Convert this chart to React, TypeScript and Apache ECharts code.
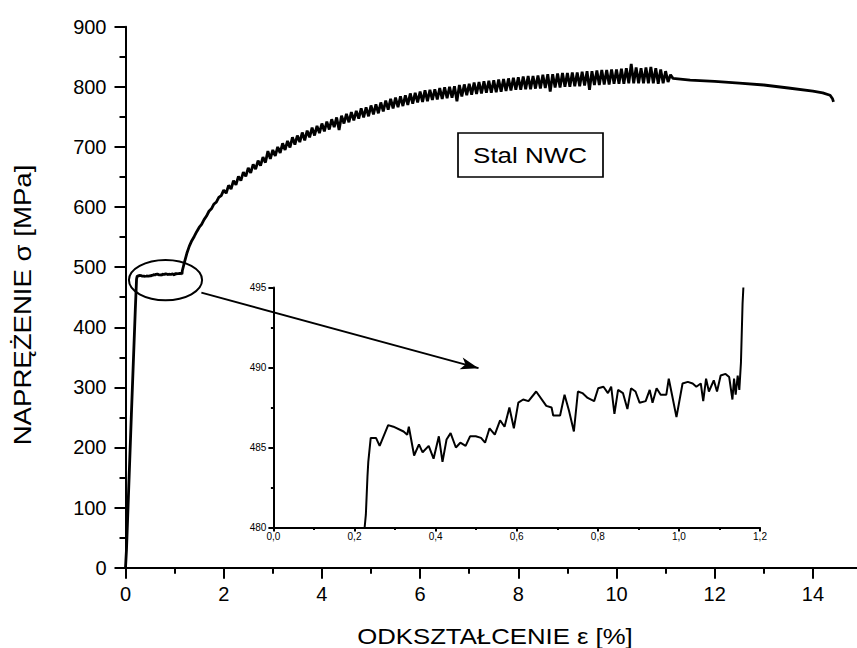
import React, { useEffect, useRef } from "react";
import * as echarts from "echarts";

// strain [%], stress [MPa]
const elastic: [number, number][] = [[0, 0], [0.02, 30], [0.12, 255], [0.2, 430]];

// yield plateau (also drawn magnified in the inset)
const plateau: [number, number][] = [
  [0.225, 480], [0.228, 480.8], [0.232, 483.2], [0.234, 484.1], [0.24, 485.6], [0.253, 485.6],
  [0.262, 485.1], [0.283, 486.4], [0.296, 486.3], [0.321, 486.0], [0.33, 485.8], [0.334, 486.3],
  [0.347, 484.5], [0.359, 485.2], [0.368, 484.7], [0.383, 485.1], [0.395, 484.3], [0.408, 485.7],
  [0.417, 484.1], [0.427, 485.5], [0.437, 485.9], [0.45, 485.0], [0.461, 485.3], [0.474, 485.1],
  [0.485, 485.7], [0.499, 485.7], [0.512, 485.6], [0.522, 485.3], [0.533, 486.2], [0.546, 485.8],
  [0.559, 486.7], [0.57, 486.3], [0.582, 487.5], [0.593, 486.2], [0.604, 487.8], [0.616, 488.0],
  [0.629, 487.9], [0.648, 488.5], [0.673, 487.6], [0.686, 487.5], [0.69, 487.0], [0.707, 487.0],
  [0.718, 488.3], [0.729, 487.3], [0.741, 486.0], [0.751, 488.5], [0.762, 488.4], [0.775, 488.1],
  [0.791, 487.9], [0.801, 488.7], [0.814, 488.8], [0.825, 488.4], [0.833, 488.8], [0.841, 487.1],
  [0.85, 488.6], [0.862, 488.4], [0.873, 487.4], [0.882, 488.7], [0.893, 488.5], [0.903, 487.8],
  [0.918, 487.9], [0.928, 488.6], [0.935, 487.8], [0.945, 488.7], [0.955, 488.3], [0.969, 488.3],
  [0.975, 489.3], [0.983, 488.3], [0.994, 486.9], [1.009, 489.0], [1.022, 489.1], [1.034, 489.0],
  [1.043, 488.8], [1.054, 489.0], [1.06, 487.9], [1.067, 489.3], [1.074, 488.5], [1.086, 489.2],
  [1.094, 488.5], [1.103, 489.5], [1.115, 489.6], [1.124, 489.4], [1.132, 488.0], [1.136, 489.3],
  [1.14, 488.3], [1.145, 489.5], [1.149, 488.6], [1.153, 490.3], [1.157, 494.0], [1.159, 495],
];

// strain hardening (noisy record)
const hardening: [number, number][] = [
  [1.2, 508], [1.25, 523], [1.3, 535], [1.35, 544], [1.4, 551], [1.45, 559], [1.5, 566], [1.55, 571],
  [1.6, 579], [1.65, 585], [1.7, 593], [1.75, 597], [1.8, 605], [1.85, 608], [1.9, 616], [1.95, 619],
  [2.0, 628], [2.05, 623], [2.1, 636], [2.15, 630], [2.2, 644], [2.25, 637], [2.3, 651], [2.35, 644],
  [2.4, 658], [2.45, 651], [2.5, 665], [2.55, 657], [2.6, 671], [2.65, 663], [2.7, 677], [2.75, 669],
  [2.8, 683], [2.85, 674], [2.9, 693], [2.95, 680], [3.0, 695], [3.05, 685], [3.1, 700], [3.15, 690],
  [3.2, 706], [3.25, 695], [3.3, 710], [3.35, 699], [3.4, 716], [3.45, 704], [3.5, 719], [3.55, 708],
  [3.6, 724], [3.65, 711], [3.7, 727], [3.75, 716], [3.8, 732], [3.85, 719], [3.9, 735], [3.95, 723],
  [4.0, 739], [4.05, 726], [4.1, 742], [4.15, 729], [4.2, 746], [4.25, 733], [4.3, 749], [4.35, 728],
  [4.4, 752], [4.45, 739], [4.5, 755], [4.55, 741], [4.6, 758], [4.65, 744], [4.7, 760], [4.75, 747],
  [4.8, 764], [4.85, 749], [4.9, 766], [4.95, 751], [5.0, 769], [5.05, 754], [5.1, 771], [5.15, 756],
  [5.2, 774], [5.25, 759], [5.3, 777], [5.35, 762], [5.4, 780], [5.45, 764], [5.5, 782], [5.55, 766],
  [5.6, 784], [5.65, 768], [5.7, 786], [5.75, 770], [5.8, 789], [5.85, 772], [5.9, 790], [5.95, 774],
  [6.0, 792], [6.05, 775], [6.1, 794], [6.15, 776], [6.2, 795], [6.25, 778], [6.3, 796], [6.35, 779],
  [6.4, 798], [6.45, 780], [6.5, 799], [6.55, 781], [6.6, 800], [6.65, 782], [6.7, 801], [6.75, 776],
  [6.8, 803], [6.85, 784], [6.9, 804], [6.95, 786], [7.0, 805], [7.05, 787], [7.1, 807], [7.15, 788],
  [7.2, 808], [7.25, 789], [7.3, 809], [7.35, 790], [7.4, 810], [7.45, 790], [7.5, 811], [7.55, 791],
  [7.6, 812], [7.65, 792], [7.7, 813], [7.75, 793], [7.8, 814], [7.85, 794], [7.9, 815], [7.95, 795],
  [8.0, 816], [8.05, 795], [8.1, 817], [8.15, 796], [8.2, 818], [8.25, 796], [8.3, 818], [8.35, 797],
  [8.4, 819], [8.45, 797], [8.5, 820], [8.55, 798], [8.6, 821], [8.65, 792], [8.7, 821], [8.75, 799],
  [8.8, 822], [8.85, 799], [8.9, 823], [8.95, 800], [9.0, 823], [9.05, 800], [9.1, 824], [9.15, 801],
  [9.2, 824], [9.25, 801], [9.3, 825], [9.35, 802], [9.4, 826], [9.45, 795], [9.5, 826], [9.55, 803],
  [9.6, 827], [9.65, 803], [9.7, 828], [9.75, 804], [9.8, 828], [9.85, 804], [9.9, 829], [9.95, 805],
  [10.0, 829], [10.05, 805], [10.1, 830], [10.15, 805], [10.2, 831], [10.25, 806], [10.3, 838],
  [10.35, 806], [10.4, 832], [10.45, 806], [10.5, 831], [10.55, 806], [10.6, 832], [10.65, 806],
  [10.7, 833], [10.75, 806], [10.8, 831], [10.85, 805], [10.9, 829], [10.95, 806], [11.0, 826],
  [11.05, 808], [11.1, 820], [11.15, 814],
];

// necking, smooth record to fracture
const necking: [number, number][] = [
  [11.5, 811], [12.0, 809], [12.5, 806], [13.0, 803], [13.5, 798], [14.0, 793], [14.2, 790],
  [14.35, 786], [14.4, 780], [14.42, 775],
];

// annotation: magnified region (strain/stress ranges) and arrow end points
const zoomRegion = { xFrom: 0.07, xTo: 1.56, yFrom: 445, yTo: 512 };
const arrowFrom: [number, number] = [1.545, 457.6];
const arrowTo: [number, number] = [7.19, 332];

const xTitle = "ODKSZTAŁCENIE ε [%]";
const yTitle = "NAPRĘŻENIE σ [MPa]";
const boxLabel = "Stal NWC";

const FONT = '"Liberation Sans", Arial, sans-serif';

export default function App() {
  const ref = useRef<HTMLDivElement>(null);
  useEffect(() => {
    if (!ref.current) return;
    const chart = echarts.init(ref.current, undefined, { renderer: "svg" });
    const black = "#000";
    const axisCommon = (fontSize: number, tickLen: number, minorLen: number, lw: number, margin: number) => ({
      axisLine: { show: true, onZero: false, lineStyle: { color: black, width: lw } },
      axisTick: { show: true, inside: false, length: tickLen, lineStyle: { color: black, width: lw } },
      minorTick: { show: true, splitNumber: 2, length: minorLen, lineStyle: { color: black, width: lw } },
      splitLine: { show: false },
      minorSplitLine: { show: false },
      axisLabel: { color: black, fontSize, fontFamily: FONT, margin },
    });
    const cx = (zoomRegion.xFrom + zoomRegion.xTo) / 2;
    const cy = (zoomRegion.yFrom + zoomRegion.yTo) / 2;
    const rx = (zoomRegion.xTo - zoomRegion.xFrom) / 2;
    const ry = (zoomRegion.yTo - zoomRegion.yFrom) / 2;

    chart.setOption({
      animation: false,
      backgroundColor: "#fff",
      grid: [
        { left: 125.5, top: 26.7, width: 785.6, height: 541, containLabel: false },
        { left: 273.4, top: 287.5, width: 486.6, height: 240, containLabel: false },
      ],
      xAxis: [
        {
          type: "value", gridIndex: 0, min: 0, max: 16, interval: 2,
          ...axisCommon(20, 11, 6, 2, 16),
          axisLabel: {
            color: black, fontSize: 20, fontFamily: FONT, margin: 16, showMaxLabel: false,
          },
        },
        {
          type: "value", gridIndex: 1, min: 0, max: 1.2, interval: 0.2,
          ...axisCommon(10, 4, 2.5, 2, 4),
          axisLabel: {
            color: black, fontSize: 10, fontFamily: FONT, margin: 4,
            formatter: (v: number) => v.toFixed(1).replace(".", ","),
          },
        },
      ],
      yAxis: [
        {
          type: "value", gridIndex: 0, min: 0, max: 900, interval: 100,
          ...axisCommon(20, 11, 6, 2, 19),
        },
        {
          type: "value", gridIndex: 1, min: 480, max: 495, interval: 5,
          ...axisCommon(10, 5, 2.5, 2, 7),
        },
      ],
      series: [
        {
          type: "line",
          xAxisIndex: 0, yAxisIndex: 0,
          data: [...elastic, ...plateau, ...hardening, ...necking],
          showSymbol: false,
          symbol: "none",
          lineStyle: { color: black, width: 2.8 },
          silent: true,
          markLine: {
            silent: true,
            symbol: ["none", "arrow"],
            symbolSize: [9, 18],
            label: { show: false },
            lineStyle: { color: black, width: 2, type: "solid" },
            data: [[{ coord: arrowFrom }, { coord: arrowTo }]],
          },
        },
        {
          type: "custom",
          xAxisIndex: 0, yAxisIndex: 0,
          silent: true,
          clip: false,
          data: [[cx, cy, rx, ry]],
          renderItem: (_p: any, api: any) => {
            const c = api.coord([api.value(0), api.value(1)]);
            const s = api.size([api.value(2), api.value(3)]);
            return {
              type: "ellipse",
              shape: { cx: c[0], cy: c[1], rx: s[0], ry: s[1] },
              style: { fill: "none", stroke: black, lineWidth: 2 },
            };
          },
        },
        {
          type: "line",
          xAxisIndex: 1, yAxisIndex: 1,
          data: plateau,
          showSymbol: false,
          symbol: "none",
          lineStyle: { color: black, width: 2 },
          silent: true,
        },
      ],
      graphic: [
        {
          type: "text", x: 23, y: 305, rotation: Math.PI / 2, scaleX: 1.2,
          style: {
            text: yTitle, font: `23px ${FONT}`, fill: black,
            align: "center", verticalAlign: "middle", textAlign: "center", textVerticalAlign: "middle",
          },
        },
        {
          type: "text", x: 495, y: 636, scaleX: 1.17,
          style: {
            text: xTitle, font: `22px ${FONT}`, fill: black,
            align: "center", verticalAlign: "middle", textAlign: "center", textVerticalAlign: "middle",
          },
        },
        {
          type: "rect",
          shape: { x: 458, y: 133, width: 145, height: 44 },
          style: { fill: "#fff", stroke: black, lineWidth: 1.7 },
        },
        {
          type: "text", x: 530, y: 155, scaleX: 1.18,
          style: {
            text: boxLabel, font: `22px ${FONT}`, fill: black,
            align: "center", verticalAlign: "middle", textAlign: "center", textVerticalAlign: "middle",
          },
        },
      ],
    });
    return () => chart.dispose();
  }, []);
  return (
    <div style={{ position: "absolute", left: 0, top: 0, width: 857, height: 648, overflow: "hidden", background: "#fff" }}>
      <div ref={ref} style={{ position: "absolute", left: 0, top: 0, width: 940, height: 648 }} />
    </div>
  );
}
